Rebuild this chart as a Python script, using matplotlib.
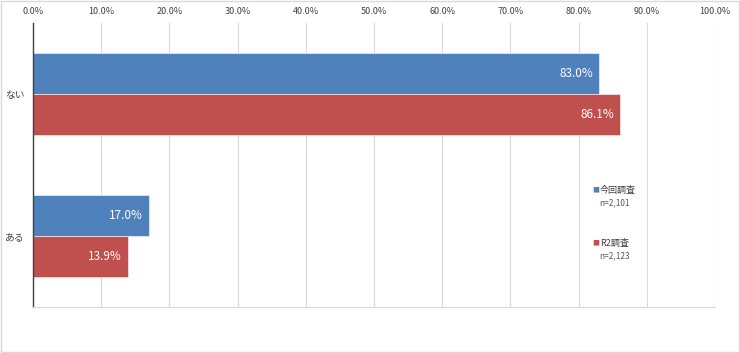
import matplotlib
matplotlib.use("Agg")
import matplotlib.pyplot as plt
from matplotlib.patches import Rectangle

plt.rcParams['font.family'] = ['Noto Sans CJK JP', 'DejaVu Sans']

categories = ["ない", "ある"]
series_names = ["今回調査", "R2調査"]
series_n = ["n=2,101", "n=2,123"]
current = [83.0, 17.0]
r2 = [86.1, 13.9]
ticks = [0, 10, 20, 30, 40, 50, 60, 70, 80, 90, 100]
colors = ["#4F81BD", "#C0504D"]

fig = plt.figure(figsize=(7.40, 3.53), dpi=100)
fig.patches.append(Rectangle((0.001, 0.002), 0.997, 0.995, transform=fig.transFigure,
                             fill=False, edgecolor="#D9D9D9", linewidth=1))
ax = fig.add_axes([33/740, 1-307/353, (715-33)/740, (307-23)/353])

h = 0.29
ypos = list(range(len(categories)))
for vals, col, off in [(current, colors[0], -h/2), (r2, colors[1], h/2)]:
    ys = [y + off for y in ypos]
    bars = ax.barh(ys, vals, height=h, color=col, edgecolor="white", linewidth=0.4)
    for b, v in zip(bars, vals):
        ax.text(v - 0.9, b.get_y() + b.get_height()/2, f"{v:.1f}%", ha="right", va="center",
                color="white", fontsize=8.5)

ax.set_xlim(0, 100)
ax.set_ylim(len(categories) - 0.5, -0.5)
ax.set_xticks(ticks)
ax.set_xticklabels([f"{t:.1f}%" for t in ticks], fontsize=6.5, color="#404040")
ax.xaxis.tick_top()
ax.tick_params(axis="x", length=0, pad=5)
ax.set_yticks(ypos)
ax.set_yticklabels(categories, fontsize=7, color="#404040")
ax.tick_params(axis="y", length=0, pad=6)
ax.grid(axis="x", color="#D9D9D9", linewidth=0.8)
ax.set_axisbelow(True)
for s in ["top", "right"]:
    ax.spines[s].set_visible(False)
ax.spines["bottom"].set_color("#D9D9D9")
ax.spines["left"].set_color("#404040")
ax.spines["left"].set_linewidth(1.0)

# legend
leg_y = [190, 243]
for name, n, col, yy in zip(series_names, series_n, colors, leg_y):
    fy = 1 - yy/353
    fig.text(592/740, fy, "■", color=col, fontsize=5, va="center", ha="left")
    fig.text(600/740, fy, name, color="#404040", fontsize=6.5, va="center", ha="left")
    fig.text(599/740, fy - 13/353, n, color="#595959", fontsize=6, va="center", ha="left")

fig.savefig("out.png", dpi=100)
